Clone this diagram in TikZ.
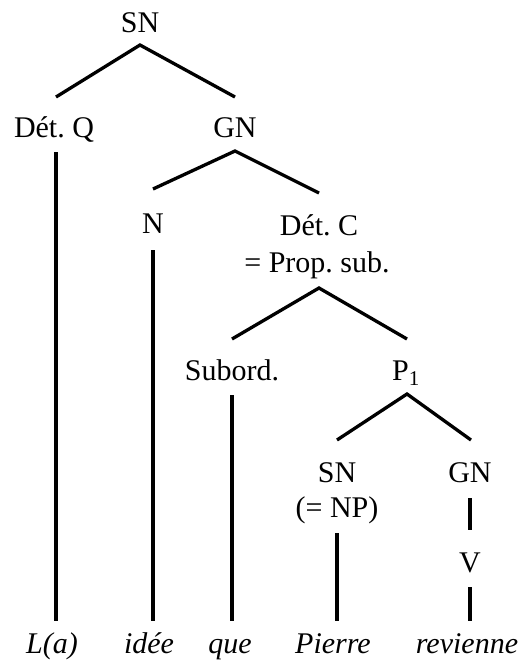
\documentclass[tikz,border=0pt]{standalone}
\usepackage{fontspec}
\setmainfont{Liberation Serif}
\frenchspacing
\begin{document}
\begin{tikzpicture}[x=1pt,y=-1pt,
  lab/.style={anchor=base,inner sep=0pt,font=\fontsize{30}{36}\selectfont},
  word/.style={lab,font=\fontsize{30}{36}\selectfont\itshape},
  branch/.style={line width=3.3pt,line cap=butt,line join=miter}]
\useasboundingbox (0,0) rectangle (523,670);

% category labels (placed on their baselines)
\node[lab] (sn)     at (140,32)  {SN};
\node[lab] (detq)   at (54,137)  {Dét. Q};
\node[lab] (gn)     at (235,137) {GN};
\node[lab] (n)      at (153,233) {N};
\node[lab] (detc)   at (319,235) {Dét. C};
\node[lab] (prop)   at (317,272) {= Prop. sub.};
\node[lab] (subord) at (232,380) {Subord.};
\node[lab] (p1)     at (406,380) {P\textsubscript{1}};
\node[lab] (sn2)    at (337,482) {SN};
\node[lab] (np)     at (337,517) {(= NP)};
\node[lab] (gn2)    at (470,482) {GN};
\node[lab] (v)      at (470,572) {V};

% terminal words
\node[word] (la)       at (52,653)  {L(a)};
\node[word] (idee)     at (149,653) {idée};
\node[word] (que)      at (230,653) {que};
\node[word] (pierre)   at (333,653) {Pierre};
\node[word] (revienne) at (467,653) {revienne};

% binary branchings
\draw[branch] ([xshift=2pt,yshift=40pt]detq.base) -- ([yshift=-13pt]sn.base) -- ([yshift=40pt]gn.base);
\draw[branch] ([yshift=44pt]n.base) -- ([yshift=-14pt]gn.base) -- ([yshift=42pt]detc.base);
\draw[branch] ([yshift=41pt]subord.base) -- ([xshift=2pt,yshift=-16pt]prop.base) -- ([xshift=1pt,yshift=41pt]p1.base);
\draw[branch] ([yshift=42pt]sn2.base) -- ([xshift=1pt,yshift=-14pt]p1.base) -- ([xshift=1pt,yshift=42pt]gn2.base);

% unary branches down to the words
\draw[branch,shorten >=32pt] ([xshift=2pt,yshift=-15pt]detq.base) -- ([xshift=2pt]detq.base |- la.base);
\draw[branch,shorten >=32pt] ([yshift=-17pt]n.base) -- (n.base |- idee.base);
\draw[branch,shorten >=32pt] ([yshift=-15pt]subord.base) -- (subord.base |- que.base);
\draw[branch,shorten >=32pt] ([yshift=-16pt]np.base) -- (np.base |- pierre.base);
\draw[branch] ([yshift=-16pt]gn2.base) -- ([yshift=42pt]v.base);
\draw[branch,shorten >=32pt] ([yshift=-15pt]v.base) -- (v.base |- revienne.base);
\end{tikzpicture}
\end{document}
